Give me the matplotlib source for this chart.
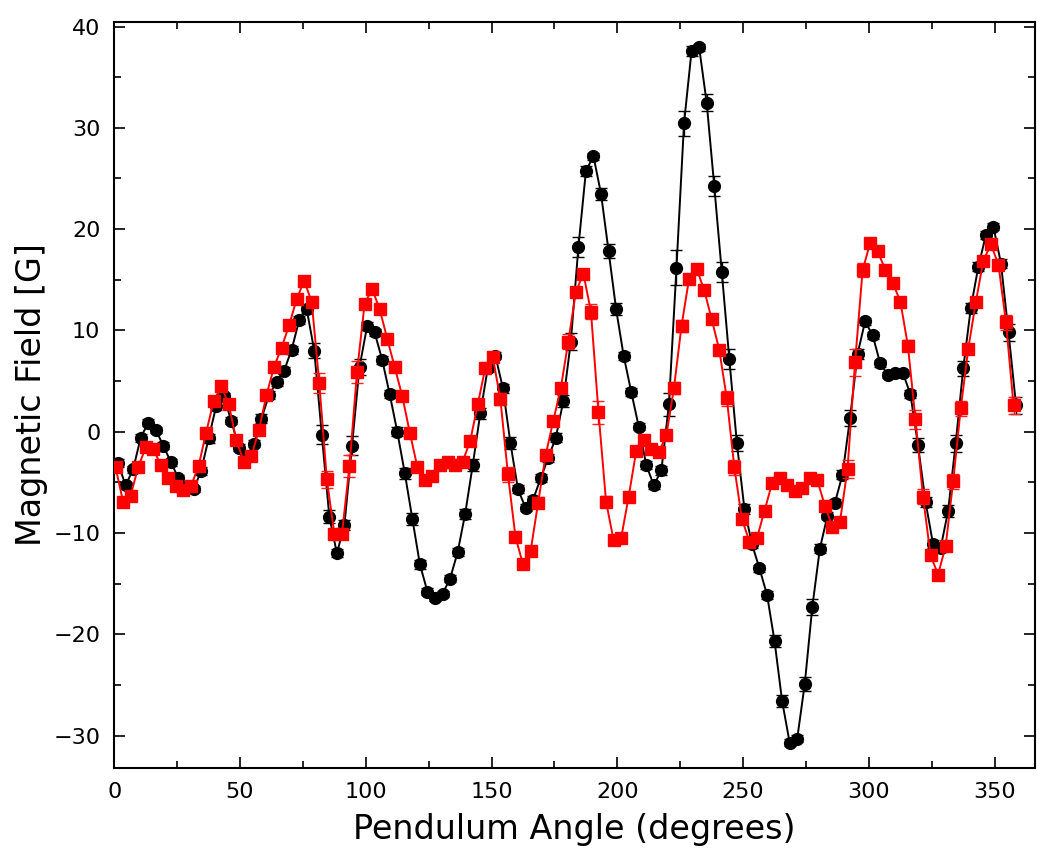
import matplotlib
matplotlib.use("Agg")
import matplotlib.pyplot as plt
from matplotlib.ticker import MultipleLocator

# ---------------- data ----------------
angle_black = [1.5, 4.5, 7.5, 10.5, 13.5, 16.5, 19.5, 22.5, 25.5, 28.5,
               31.5, 34.5, 37.5, 40.5, 43.5, 46.5, 49.5, 52.5, 55.5, 58.5,
               61.5, 64.5, 67.5, 70.5, 73.5, 76.5, 79.5, 82.5, 85.5, 88.5,
               91.5, 94.5, 97.5, 100.5, 103.5, 106.5, 109.5, 112.5, 115.5, 118.5,
               121.5, 124.5, 127.5, 130.5, 133.5, 136.5, 139.5, 142.5, 145.5, 148.5,
               151.5, 154.5, 157.5, 160.5, 163.5, 166.5, 169.5, 172.5, 175.5, 178.5,
               181.5, 184.5, 187.5, 190.5, 193.5, 196.5, 199.5, 202.5, 205.5, 208.5,
               211.5, 214.5, 217.5, 220.5, 223.5, 226.5, 229.5, 232.5, 235.5, 238.5,
               241.5, 244.5, 247.5, 250.5, 253.5, 256.5, 259.5, 262.5, 265.5, 268.5,
               271.5, 274.5, 277.5, 280.5, 283.5, 286.5, 289.5, 292.5, 295.5, 298.5,
               301.5, 304.5, 307.5, 310.5, 313.5, 316.5, 319.5, 322.5, 325.5, 328.5,
               331.5, 334.5, 337.5, 340.5, 343.5, 346.5, 349.5, 352.5, 355.5, 358.5]

field_black = [-3.1, -5.3, -3.7, -0.6, 0.9, 0.2, -1.4, -3.0, -4.6, -5.5,
               -5.7, -3.9, -0.65, 2.5, 3.5, 1.1, -1.6, -2.5, -1.2, 1.3,
               3.6, 4.9, 6.0, 8.1, 11.0, 12.1, 8.0, -0.3, -8.4, -12.0,
               -9.2, -1.4, 6.4, 10.4, 9.8, 7.1, 3.7, 0.0, -4.1, -8.6,
               -13.1, -15.8, -16.4, -16.0, -14.5, -11.9, -8.1, -3.3, 1.8, 6.3,
               7.5, 4.3, -1.15, -5.7, -7.5, -6.7, -4.6, -2.6, -0.6, 3.0,
               8.9, 18.2, 25.75, 27.2, 23.5, 17.85, 12.1, 7.5, 3.95, 0.5,
               -3.3, -5.3, -3.8, 2.7, 16.2, 30.45, 37.6, 37.97, 32.5, 24.3,
               15.8, 7.2, -1.1, -7.6, -11.1, -13.5, -16.1, -20.7, -26.6, -30.7,
               -30.3, -24.9, -17.3, -11.55, -8.3, -7.0, -4.25, 1.35, 7.7, 10.9,
               9.5, 6.75, 5.6, 5.75, 5.8, 3.7, -1.3, -6.9, -11.1, -11.5,
               -7.8, -1.15, 6.25, 12.2, 16.3, 19.4, 20.25, 16.6, 9.8, 2.6]

err_black = [0.4, 0.35, 0.35, 0.4, 0.35, 0.3, 0.35, 0.35, 0.35, 0.3,
             0.3, 0.4, 0.45, 0.4, 0.3, 0.35, 0.35, 0.3, 0.35, 0.4,
             0.4, 0.35, 0.35, 0.4, 0.4, 0.35, 0.74, 0.92, 0.63, 0.4,
             0.5, 0.93, 0.77, 0.4, 0.35, 0.4, 0.4, 0.45, 0.55, 0.58,
             0.45, 0.35, 0.3, 0.3, 0.35, 0.4, 0.5, 0.6, 0.55, 0.45,
             0.35, 0.45, 0.58, 0.4, 0.35, 0.35, 0.4, 0.4, 0.45, 0.58,
             0.86, 1.0, 0.5, 0.35, 0.58, 0.66, 0.58, 0.4, 0.4, 0.35,
             0.4, 0.35, 0.45, 1.1, 1.73, 1.26, 0.5, 0.35, 0.84, 0.98,
             1.0, 1.0, 0.8, 0.5, 0.4, 0.35, 0.4, 0.58, 0.6, 0.35,
             0.35, 0.7, 0.77, 0.45, 0.35, 0.35, 0.45, 0.82, 0.5, 0.35,
             0.35, 0.35, 0.3, 0.3, 0.3, 0.4, 0.66, 0.5, 0.4, 0.35,
             0.58, 0.82, 0.76, 0.5, 0.45, 0.4, 0.35, 0.48, 0.86, 0.82]

angle_red = [0.5, 3.5, 6.5, 9.5, 12.5, 15.5, 18.5, 21.5, 24.5, 27.5,
             30.5, 33.5, 36.5, 39.5, 42.5, 45.5, 48.5, 51.5, 54.5, 57.5,
             60.5, 63.5, 66.5, 69.5, 72.5, 75.5, 78.5, 81.5, 84.5, 87.5,
             90.5, 93.5, 96.5, 99.5, 102.5, 105.5, 108.5, 111.5, 114.5, 117.5,
             120.5, 123.5, 126.5, 129.5, 132.5, 135.5, 138.5, 141.5, 144.5, 147.5,
             150.5, 153.5, 156.5, 159.5, 162.5, 165.5, 168.5, 171.5, 174.5, 177.5,
             180.5, 183.5, 186.5, 189.5, 192.5, 195.5, 198.5, 201.5, 204.5, 207.5,
             210.5, 213.5, 216.5, 219.5, 222.5, 225.5, 228.5, 231.5, 234.5, 237.5,
             240.5, 243.5, 246.5, 249.5, 252.5, 255.5, 258.5, 261.5, 264.5, 267.5,
             270.5, 273.5, 276.5, 279.5, 282.5, 285.5, 288.5, 291.5, 294.5, 297.5,
             300.5, 303.5, 306.5, 309.5, 312.5, 315.5, 318.5, 321.5, 324.5, 327.5,
             330.5, 333.5, 336.5, 339.5, 342.5, 345.5, 348.5, 351.5, 354.5, 357.5]

field_red = [-3.5, -6.9, -6.3, -3.5, -1.55, -1.7, -3.3, -4.6, -5.4, -5.8,
             -5.35, -3.4, -0.1, 3.0, 4.5, 2.7, -0.8, -2.95, -2.4, 0.17,
             3.6, 6.4, 8.3, 10.5, 13.1, 14.9, 12.8, 4.8, -4.7, -10.1,
             -10.1, -3.4, 5.9, 12.6, 14.1, 12.1, 9.2, 6.35, 3.5, -0.1,
             -3.5, -4.8, -4.4, -3.3, -2.95, -3.3, -2.95, -0.9, 2.7, 6.3,
             7.35, 3.2, -4.2, -10.4, -13.1, -11.8, -7.0, -2.3, 1.05, 4.3,
             8.9, 13.8, 15.6, 11.85, 1.9, -6.9, -10.7, -10.5, -6.4, -1.9,
             -0.8, -1.7, -2.05, -0.3, 4.3, 10.45, 15.1, 16.1, 14.0, 11.1,
             8.1, 3.3, -3.5, -8.6, -10.85, -10.5, -7.8, -5.1, -4.55, -5.3,
             -5.9, -5.6, -4.6, -4.8, -7.3, -9.4, -8.9, -3.65, 6.85, 15.95,
             18.65, 17.8, 16.0, 14.7, 12.85, 8.5, 1.25, -6.4, -12.2, -14.1,
             -11.3, -4.9, 2.3, 8.2, 12.8, 16.9, 18.5, 16.5, 10.8, 2.6]

err_red = [0.4, 0.4, 0.35, 0.4, 0.35, 0.3, 0.35, 0.35, 0.3, 0.3,
           0.3, 0.4, 0.45, 0.45, 0.35, 0.4, 0.45, 0.35, 0.35, 0.4,
           0.4, 0.4, 0.4, 0.4, 0.45, 0.35, 0.5, 0.95, 0.84, 0.4,
           0.45, 1.07, 1.1, 0.5, 0.35, 0.4, 0.4, 0.4, 0.45, 0.45,
           0.4, 0.35, 0.3, 0.3, 0.3, 0.3, 0.35, 0.4, 0.4, 0.45,
           0.35, 0.6, 0.74, 0.5, 0.35, 0.4, 0.55, 0.45, 0.4, 0.45,
           0.7, 0.5, 0.4, 0.77, 1.15, 0.56, 0.35, 0.35, 0.45, 0.45,
           0.35, 0.3, 0.3, 0.4, 0.58, 0.58, 0.4, 0.35, 0.4, 0.45,
           0.45, 0.72, 0.75, 0.5, 0.4, 0.35, 0.4, 0.35, 0.3, 0.3,
           0.3, 0.3, 0.3, 0.35, 0.4, 0.4, 0.45, 0.88, 1.34, 0.68,
           0.4, 0.35, 0.35, 0.4, 0.45, 0.58, 0.94, 0.7, 0.5, 0.35,
           0.45, 0.77, 0.74, 0.5, 0.45, 0.4, 0.35, 0.45, 0.74, 0.86]

x_label = "Pendulum Angle (degrees)"
y_label = "Magnetic Field [G]"

plt.rcParams['font.family'] = ['DejaVu Sans']

# ---------------- figure ----------------
fig = plt.figure(figsize=(10.37, 8.5), dpi=100)
ax = fig.add_axes([0.1102, 0.0965, 0.8878, 0.8782])

ax.errorbar(angle_black, field_black, yerr=err_black, color='black',
            marker='o', markersize=8.5, linewidth=1.4, elinewidth=1.0,
            capsize=4, capthick=1.0, zorder=2)
ax.errorbar(angle_red, field_red, yerr=err_red, color='#ff0000',
            ecolor='#ff2020', marker='s', markersize=8.2, linewidth=1.4,
            elinewidth=1.0, capsize=4, capthick=1.0, zorder=3)

ax.set_xlim(0, 366)
ax.set_ylim(-33.2, 40.5)
ax.xaxis.set_major_locator(MultipleLocator(50))
ax.xaxis.set_minor_locator(MultipleLocator(25))
ax.yaxis.set_major_locator(MultipleLocator(10))
ax.yaxis.set_minor_locator(MultipleLocator(5))

ax.tick_params(which='both', direction='in', top=True, right=True,
               labeltop=False, labelright=False, width=1.2)
ax.tick_params(which='major', length=8, labelsize=16, pad=10)
ax.tick_params(which='minor', length=5)
for s in ax.spines.values():
    s.set_linewidth(1.5)

ax.set_xlabel(x_label, fontsize=24, labelpad=8)
ax.set_ylabel(y_label, fontsize=24, labelpad=4)

fig.savefig("out.png", dpi=100)
